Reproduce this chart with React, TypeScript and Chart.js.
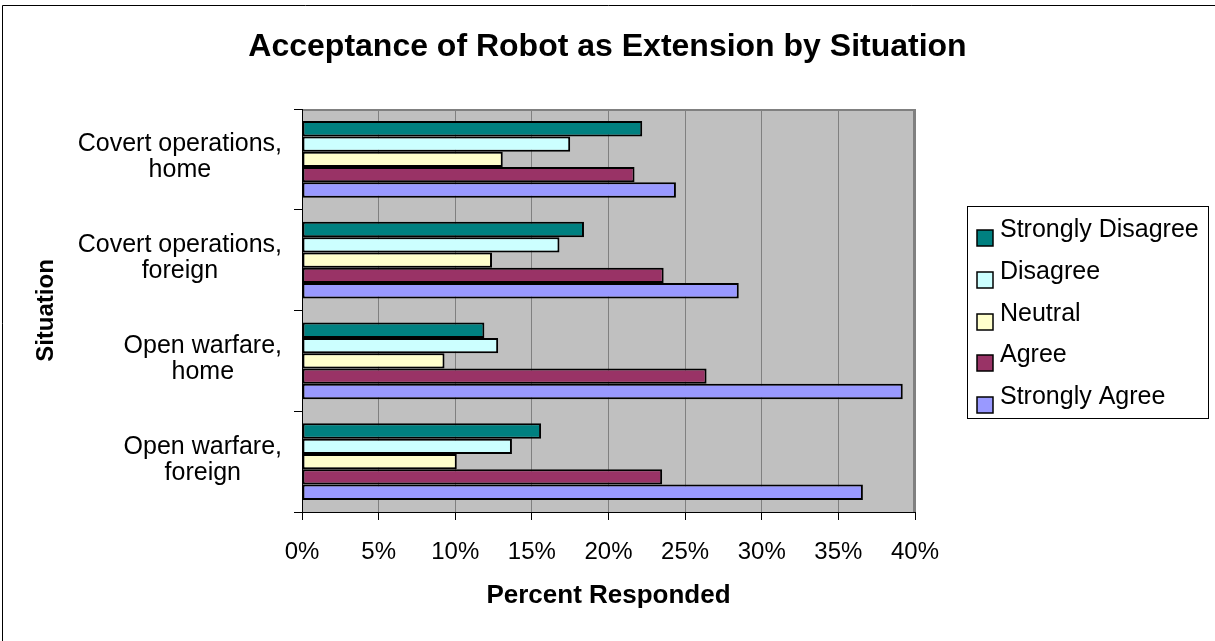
import React, { useEffect, useRef } from "react";
import { Chart, registerables } from "chart.js";

Chart.register(...registerables);

const FONT = "'Liberation Sans', Arial, Helvetica, sans-serif";

const categories: string[][] = [
  ["Covert operations,", "home"],
  ["Covert operations,", "foreign"],
  ["Open warfare,", "home"],
  ["Open warfare,", "foreign"],
];

const seriesNames = ["Strongly Disagree", "Disagree", "Neutral", "Agree", "Strongly Agree"];
const stronglyDisagree = [22.2, 18.4, 11.9, 15.6];
const disagree = [17.5, 16.8, 12.8, 13.7];
const neutral = [13.1, 12.4, 9.3, 10.1];
const agree = [21.7, 23.6, 26.4, 23.5];
const stronglyAgree = [24.4, 28.5, 39.2, 36.6];
const seriesColors = ["#008080", "#CCFFFF", "#FFFFCC", "#993366", "#9999FF"];

const xMin = 0;
const xMax = 40;
const xStep = 5;

const chartTitle = "Acceptance of Robot as Extension by Situation";
const xTitle = "Percent Responded";
const yTitle = "Situation";

const decorPlugin = {
  id: "decor",
  beforeDraw(chart: any) {
    const { ctx, chartArea: a, width, height } = chart;
    ctx.save();
    ctx.fillStyle = "#ffffff";
    ctx.fillRect(0, 0, width, height);
    ctx.strokeStyle = "#000";
    ctx.lineWidth = 1;
    ctx.beginPath();
    ctx.moveTo(2.5, height);
    ctx.lineTo(2.5, 5.5);
    ctx.lineTo(width, 5.5);
    ctx.stroke();
    ctx.fillStyle = "#C0C0C0";
    ctx.fillRect(a.left, a.top, a.right - a.left, a.bottom - a.top);
    ctx.strokeStyle = "#808080";
    ctx.lineWidth = 2;
    ctx.beginPath();
    ctx.moveTo(a.left, a.top + 1);
    ctx.lineTo(a.right - 1, a.top + 1);
    ctx.lineTo(a.right - 1, a.bottom);
    ctx.stroke();
    ctx.restore();
  },
  afterDraw(chart: any) {
    const { ctx, chartArea: a } = chart;
    const ys = chart.scales.y;
    ctx.save();
    // category labels: block right-aligned, lines centred within block
    ctx.font = `25px ${FONT}`;
    ctx.fillStyle = "#000";
    ctx.textAlign = "center";
    ctx.textBaseline = "alphabetic";
    (chart.data.labels as string[][]).forEach((lines, i) => {
      const cy = ys.getPixelForValue(i);
      const w = Math.max(...lines.map((l) => ctx.measureText(l).width));
      const cx = a.left - 20 - w / 2;
      lines.forEach((l, k) => {
        ctx.fillText(l, cx, cy + 5 + (k - (lines.length - 1) / 2) * 26);
      });
    });
    // legend
    const lx = a.right + 52;
    const lcy = (a.top + a.bottom) / 2;
    const ly = Math.round(lcy - 105);
    ctx.strokeStyle = "#000";
    ctx.lineWidth = 1;
    ctx.strokeRect(lx + 0.5, ly + 0.5, 241, 212);
    ctx.textAlign = "left";
    chart.data.datasets.forEach((ds: any, i: number) => {
      const base = ly + 31 + i * 41.75;
      const by = Math.round(base - 7);
      ctx.fillStyle = ds.backgroundColor;
      ctx.fillRect(lx + 10, by, 16, 16);
      ctx.strokeStyle = "#000";
      ctx.lineWidth = 1.5;
      ctx.strokeRect(lx + 10, by, 16, 16);
      ctx.fillStyle = "#000";
      ctx.fillText(ds.label, lx + 33, base);
    });
    ctx.restore();
  },
};

export default function App() {
  const ref = useRef<HTMLCanvasElement | null>(null);

  useEffect(() => {
    if (!ref.current) return;
    const series = [stronglyDisagree, disagree, neutral, agree, stronglyAgree];
    const chart = new Chart(ref.current, {
      type: "bar",
      data: {
        labels: categories,
        datasets: series.map((values, i) => ({
          label: seriesNames[i],
          data: values,
          xAxisID: "x",
          yAxisID: "y",
          backgroundColor: seriesColors[i],
          borderColor: "#000",
          borderWidth: 2,
          borderSkipped: false,
          categoryPercentage: 0.76,
          barPercentage: 1,
        })),
      },
      options: {
        indexAxis: "y",
        responsive: false,
        animation: false,
        devicePixelRatio: 1,
        layout: { padding: 0 },
        plugins: {
          legend: { display: false },
          tooltip: { enabled: false },
          title: {
            display: true,
            text: chartTitle,
            color: "#000",
            font: { family: FONT, size: 32, weight: "bold" },
            padding: { top: 28.3, bottom: 42.3 },
          },
        },
        scales: {
          x: {
            type: "linear",
            position: "bottom",
            min: xMin,
            max: xMax,
            ticks: {
              stepSize: xStep,
              color: "#000",
              padding: 18,
              font: { family: FONT, size: 24 },
              callback: (v: any) => `${v}%`,
            },
            grid: {
              color: "#808080",
              lineWidth: 1,
              tickColor: "#000",
              tickLength: 8,
            },
            border: { display: true, color: "#000", width: 1 },
            title: {
              display: true,
              text: xTitle,
              color: "#000",
              font: { family: FONT, size: 26, weight: "bold" },
              padding: { top: 10, bottom: 29.4 },
            },
            afterFit: (scale: any) => {
              scale.height = 129;
            },
          },
          y: {
            type: "category",
            position: "left",
            offset: true,
            ticks: { display: false },
            grid: {
              offset: true,
              drawOnChartArea: false,
              drawTicks: true,
              tickLength: 8,
              tickColor: "#000",
              color: "#000",
            },
            border: { display: true, color: "#000", width: 1 },
            title: {
              display: true,
              text: yTitle,
              color: "#000",
              font: { family: FONT, size: 24, weight: "bold" },
              padding: { top: 31.6, bottom: 10 },
            },
            afterFit: (scale: any) => {
              scale.width = 302;
            },
          },
          legendSpace: {
            type: "linear",
            position: "right",
            display: true,
            ticks: { display: false },
            grid: { display: false, drawTicks: false },
            border: { display: false },
            afterFit: (scale: any) => {
              scale.width = 300;
            },
          },
        },
      },
      plugins: [decorPlugin],
    });
    return () => chart.destroy();
  }, []);

  return (
    <div style={{ position: "absolute", left: 0, top: 0, width: 1215, height: 641 }}>
      <canvas ref={ref} width={1215} height={641} />
    </div>
  );
}
